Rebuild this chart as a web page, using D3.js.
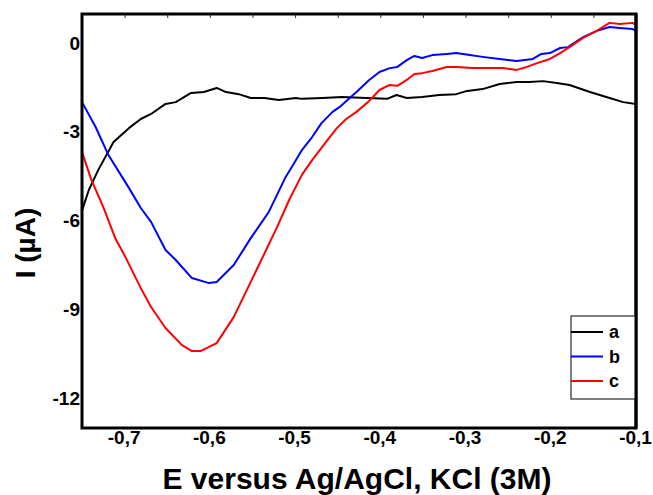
<!DOCTYPE html>
<html>
<head>
<meta charset="utf-8">
<script src="https://cdn.jsdelivr.net/npm/d3@7"></script>
<style>
  html, body { margin: 0; padding: 0; background: #fff; }
  svg { display: block; font-family: "Liberation Sans", Arial, sans-serif; font-weight: bold; }
</style>
</head>
<body>
<svg id="chart" width="653" height="495"></svg>
<script>
// ---- Data ----
const seriesNames = ["a", "b", "c"];
const seriesColors = ["#000000", "#0000ff", "#ff0000"];

const E_a = [-0.750,-0.742,-0.731,-0.713,-0.695,-0.681,-0.669,-0.652,-0.640,-0.622,-0.607,-0.592,-0.581,-0.566,-0.552,-0.536,-0.519,-0.499,-0.492,-0.468,-0.445,-0.416,-0.392,-0.381,-0.369,-0.351,-0.331,-0.311,-0.298,-0.280,-0.260,-0.240,-0.225,-0.209,-0.193,-0.178,-0.154,-0.131,-0.115,-0.100];
const I_a = [-5.65,-4.95,-4.28,-3.33,-2.86,-2.55,-2.38,-2.04,-1.98,-1.67,-1.64,-1.50,-1.64,-1.71,-1.84,-1.84,-1.91,-1.84,-1.87,-1.84,-1.81,-1.84,-1.87,-1.74,-1.84,-1.81,-1.74,-1.71,-1.60,-1.54,-1.37,-1.30,-1.30,-1.27,-1.33,-1.40,-1.64,-1.84,-1.98,-2.04];

const E_b = [-0.750,-0.734,-0.719,-0.695,-0.681,-0.669,-0.652,-0.640,-0.621,-0.601,-0.592,-0.572,-0.552,-0.531,-0.511,-0.501,-0.492,-0.480,-0.469,-0.456,-0.448,-0.428,-0.413,-0.401,-0.389,-0.380,-0.369,-0.360,-0.351,-0.339,-0.322,-0.311,-0.295,-0.280,-0.260,-0.240,-0.221,-0.211,-0.201,-0.189,-0.180,-0.162,-0.146,-0.131,-0.119,-0.104,-0.100];
const I_b = [-1.98,-2.82,-3.77,-4.88,-5.56,-6.03,-6.98,-7.32,-7.93,-8.10,-8.06,-7.49,-6.58,-5.70,-4.51,-4.04,-3.60,-3.16,-2.69,-2.31,-2.15,-1.64,-1.23,-0.96,-0.83,-0.79,-0.56,-0.42,-0.49,-0.39,-0.35,-0.32,-0.39,-0.45,-0.52,-0.59,-0.52,-0.35,-0.32,-0.15,-0.12,0.22,0.43,0.56,0.53,0.49,0.43];

const E_c = [-0.750,-0.739,-0.725,-0.711,-0.699,-0.681,-0.669,-0.652,-0.633,-0.621,-0.611,-0.592,-0.572,-0.551,-0.521,-0.507,-0.492,-0.480,-0.460,-0.451,-0.440,-0.428,-0.413,-0.401,-0.389,-0.380,-0.369,-0.360,-0.351,-0.339,-0.322,-0.311,-0.292,-0.272,-0.256,-0.240,-0.228,-0.216,-0.201,-0.189,-0.178,-0.162,-0.146,-0.131,-0.119,-0.104,-0.100];
const I_c = [-3.67,-4.61,-5.53,-6.58,-7.22,-8.27,-8.91,-9.62,-10.19,-10.40,-10.40,-10.13,-9.25,-8.00,-6.20,-5.29,-4.44,-3.94,-3.19,-2.86,-2.55,-2.31,-1.94,-1.57,-1.40,-1.43,-1.23,-1.03,-1.00,-0.93,-0.79,-0.79,-0.83,-0.83,-0.83,-0.89,-0.79,-0.66,-0.52,-0.32,-0.12,0.19,0.43,0.70,0.66,0.70,0.63];

const xTickValues = [-0.7, -0.6, -0.5, -0.4, -0.3, -0.2, -0.1];
const xTickLabels = ["-0,7", "-0,6", "-0,5", "-0,4", "-0,3", "-0,2", "-0,1"];
const xMinorTicks = [-0.7, -0.65, -0.6, -0.55, -0.5, -0.45, -0.4, -0.35, -0.3, -0.25, -0.2, -0.15];
const yTickValues = [0, -3, -6, -9, -12];
const yTickLabels = ["0", "-3", "-6", "-9", "-12"];
const xTitle = "E versus Ag/AgCl, KCl (3M)";
const yTitle = "I (µA)";

// ---- Layout ----
const svg = d3.select("#chart");
const pL = 82, pR = 636, pT = 14, pB = 428;

const x = d3.scaleLinear().domain([-0.75, -0.1]).range([pL, pR]);
const y = d3.scaleLinear().domain([-13, 1]).range([pB, pT]);

// series table
const series = [
  {name: seriesNames[0], color: seriesColors[0], pts: E_a.map((e, i) => [e, I_a[i]])},
  {name: seriesNames[1], color: seriesColors[1], pts: E_b.map((e, i) => [e, I_b[i]])},
  {name: seriesNames[2], color: seriesColors[2], pts: E_c.map((e, i) => [e, I_c[i]])}
];

// top inward minor ticks
const topAxis = d3.axisBottom(x).tickValues(xMinorTicks).tickSize(4).tickFormat("");
svg.append("g").attr("transform", `translate(0,${pT})`).call(topAxis)
  .call(g => g.select(".domain").remove())
  .call(g => g.selectAll("line").attr("stroke", "#333").attr("stroke-width", 1));

// bottom tick labels
const xAxis = d3.axisBottom(x).tickValues(xTickValues).tickSize(0)
  .tickFormat((d, i) => xTickLabels[i]);
svg.append("g").attr("transform", `translate(0,${pB})`).call(xAxis)
  .call(g => g.select(".domain").remove())
  .call(g => g.selectAll("text")
    .attr("font-family", "'Liberation Sans', Arial, sans-serif")
    .attr("font-weight", "bold").attr("font-size", 19).attr("fill", "#000")
    .attr("dy", 0).attr("y", 16).attr("dx", -1));

// left tick labels
const yAxis = d3.axisLeft(y).tickValues(yTickValues).tickSize(0)
  .tickFormat((d, i) => yTickLabels[i]);
svg.append("g").attr("transform", `translate(${pL},0)`).call(yAxis)
  .call(g => g.select(".domain").remove())
  .call(g => g.selectAll("text")
    .attr("font-family", "'Liberation Sans', Arial, sans-serif")
    .attr("font-weight", "bold").attr("font-size", 19).attr("fill", "#000")
    .attr("x", -2).attr("dy", "0.3em"));

// curves
const line = d3.line().x(d => x(d[0])).y(d => y(d[1]));
svg.append("g").selectAll("path").data(series).join("path")
  .attr("d", d => line(d.pts))
  .attr("fill", "none")
  .attr("stroke", d => d.color)
  .attr("stroke-width", 2)
  .attr("stroke-linejoin", "round");

// frame
svg.append("rect")
  .attr("x", pL).attr("y", pT)
  .attr("width", pR - pL).attr("height", pB - pT)
  .attr("fill", "none").attr("stroke", "#000").attr("stroke-width", 3);

// legend
const lg = svg.append("g");
lg.append("rect").attr("x", 571).attr("y", 316).attr("width", pR - 571).attr("height", 83)
  .attr("fill", "#fff").attr("stroke", "#000").attr("stroke-width", 1);
series.forEach((s, i) => {
  const ly = 332 + i * 24.5;
  lg.append("line").attr("x1", 571).attr("x2", 603).attr("y1", ly).attr("y2", ly)
    .attr("stroke", s.color).attr("stroke-width", 2);
  lg.append("text").attr("x", 609).attr("y", ly + 6).attr("font-size", 18)
    .attr("fill", "#000").text(s.name);
});
// re-draw right frame edge over legend
svg.append("line").attr("x1", pR).attr("x2", pR).attr("y1", pT).attr("y2", pB)
  .attr("stroke", "#000").attr("stroke-width", 3);

// axis titles
svg.append("text").attr("x", 357).attr("y", 489).attr("text-anchor", "middle")
  .attr("font-size", 30).attr("fill", "#000").text(xTitle);
svg.append("text").attr("transform", "translate(35,243) rotate(-90)")
  .attr("text-anchor", "middle").attr("font-size", 28).attr("fill", "#000").text(yTitle);
</script>
</body>
</html>
